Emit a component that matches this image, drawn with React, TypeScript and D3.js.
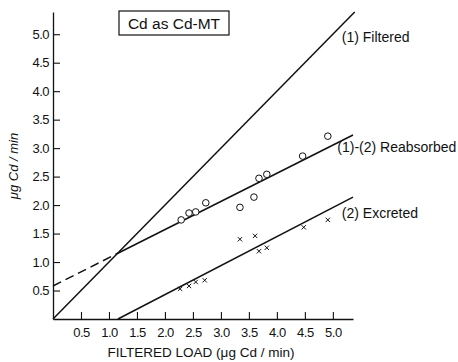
import { useEffect, useRef } from 'react';
import * as d3 from 'd3';

// circles: (1)-(2) reabsorbed
const reabsorbedLoad = [2.29, 2.43, 2.55, 2.73, 3.34, 3.59, 3.68, 3.82, 4.46, 4.91];
const reabsorbedRate = [1.74, 1.86, 1.88, 2.04, 1.96, 2.14, 2.47, 2.54, 2.86, 3.21];
// crosses: (2) excreted
const excretedLoad = [2.27, 2.43, 2.55, 2.71, 3.34, 3.61, 3.68, 3.82, 4.48, 4.91];
const excretedRate = [0.53, 0.58, 0.65, 0.68, 1.40, 1.46, 1.19, 1.25, 1.61, 1.74];

// fitted lines (end points)
const filteredLine: [number, number][] = [[0, 0], [5.39, 5.39]];
const reabsorbedDashed: [number, number][] = [[0, 0.58], [1.15, 1.15]];
const reabsorbedSolid: [number, number][] = [[1.15, 1.15], [5.36, 3.23]];
const excretedLine: [number, number][] = [[1.16, 0], [5.36, 2.14]];

const tickValues = [0.5, 1.0, 1.5, 2.0, 2.5, 3.0, 3.5, 4.0, 4.5, 5.0];

const lineLabels = [
  { text: '(1)  Filtered', at: [5.16, 4.87] },
  { text: '(1)-(2) Reabsorbed', at: [5.08, 2.94] },
  { text: '(2) Excreted', at: [5.16, 1.78] },
];

const FONT = 'Liberation Sans, Arial, sans-serif';

export default function App() {
  const svgRef = useRef<SVGSVGElement>(null);

  useEffect(() => {
    if (!svgRef.current) return;
    const svg = d3.select(svgRef.current);
    svg.selectAll('*').remove();

    const x = d3.scaleLinear().domain([0, 5.36]).range([53, 353]);
    const y = d3.scaleLinear().domain([0, 5.39]).range([319, 12]);

    const g = svg.append('g').style('font-family', FONT);

    // Axes (ticks point inward)
    const yAxis = g.append('g')
      .attr('transform', `translate(${x(0)},0)`)
      .call(d3.axisLeft(y).tickValues(tickValues).tickSize(-7).tickSizeOuter(0)
        .tickPadding(4).tickFormat(d => d3.format('.1f')(d as number)));
    const xAxis = g.append('g')
      .attr('transform', `translate(0,${y(0)})`)
      .call(d3.axisBottom(x).tickValues(tickValues).tickSize(-7).tickSizeOuter(0)
        .tickPadding(9).tickFormat(d => d3.format('.1f')(d as number)));

    [yAxis, xAxis].forEach(ax => {
      ax.select('.domain').attr('stroke', '#111').attr('stroke-width', 1.3);
      ax.selectAll('.tick line').attr('stroke', '#111').attr('stroke-width', 1.1);
      ax.selectAll('.tick text')
        .attr('fill', '#111')
        .style('font-size', '13px')
        .style('font-family', FONT)
        .style('letter-spacing', '-0.5px');
    });

    // Fitted lines
    const line = d3.line<[number, number]>().x(d => x(d[0])).y(d => y(d[1]));
    [filteredLine, reabsorbedSolid, excretedLine].forEach(pts => {
      g.append('path').attr('d', line(pts)).attr('fill', 'none')
        .attr('stroke', '#111').attr('stroke-width', 1.5);
    });
    g.append('path').attr('d', line(reabsorbedDashed)).attr('fill', 'none')
      .attr('stroke', '#111').attr('stroke-width', 1.5).attr('stroke-dasharray', '9,5');

    // Data points
    g.selectAll('.reab')
      .data(reabsorbedLoad)
      .enter()
      .append('circle')
      .attr('class', 'reab')
      .attr('cx', d => x(d))
      .attr('cy', (_, i) => y(reabsorbedRate[i]))
      .attr('r', 3.3)
      .attr('fill', '#fff')
      .attr('stroke', '#111')
      .attr('stroke-width', 1);

    const cross = d3.symbol().type(d3.symbolX).size(14);
    g.selectAll('.excr')
      .data(excretedLoad)
      .enter()
      .append('path')
      .attr('class', 'excr')
      .attr('transform', (d, i) => `translate(${x(d)},${y(excretedRate[i])})`)
      .attr('d', cross())
      .attr('fill', 'none')
      .attr('stroke', '#111')
      .attr('stroke-width', 1);

    // Line labels
    lineLabels.forEach(l => {
      g.append('text')
        .attr('x', x(l.at[0]))
        .attr('y', y(l.at[1]))
        .attr('fill', '#111')
        .style('font-size', '14px')
        .text(l.text);
    });

    // Title box
    g.append('rect')
      .attr('x', 119).attr('y', 11).attr('width', 110).attr('height', 24)
      .attr('fill', '#fff').attr('stroke', '#111').attr('stroke-width', 1.2);
    g.append('text')
      .attr('x', 174).attr('y', 28.5)
      .attr('text-anchor', 'middle')
      .attr('fill', '#111')
      .style('font-size', '15.5px')
      .text('Cd as Cd-MT');

    // Axis titles
    g.append('text')
      .attr('x', 201).attr('y', 357)
      .attr('text-anchor', 'middle')
      .attr('fill', '#111')
      .style('font-size', '13.5px')
      .text('FILTERED LOAD (\u03bcg Cd / min)');
    g.append('text')
      .attr('transform', 'translate(18,166) rotate(-90)')
      .attr('text-anchor', 'middle')
      .attr('fill', '#111')
      .style('font-size', '13px')
      .style('font-style', 'italic')
      .text('\u03bcg  Cd / min');
  }, []);

  return (
    <svg
      ref={svgRef}
      width={458}
      height={362}
      style={{ position: 'absolute', left: 0, top: 0, background: '#fff' }}
    />
  );
}
